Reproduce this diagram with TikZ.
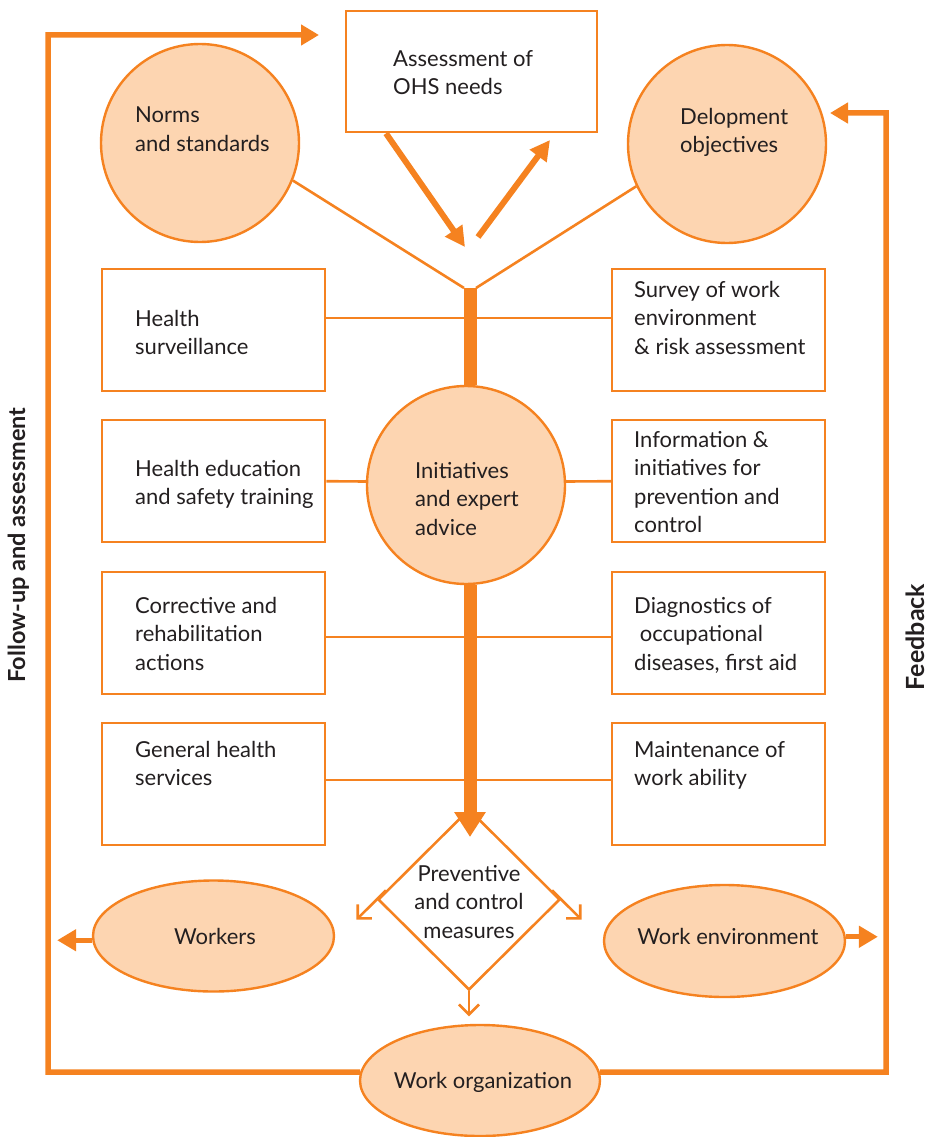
\documentclass[tikz,border=0pt]{standalone}
\usepackage{fontspec}
\setmainfont{Lato}
\usetikzlibrary{shapes.geometric,arrows.meta,calc}
\definecolor{org}{HTML}{F58220}
\definecolor{peach}{HTML}{FDD5B1}
\definecolor{ink}{HTML}{231F20}
\newcommand\lfs{\fontsize{22pt}{28.5pt}\selectfont}
\begin{document}
\begin{tikzpicture}[x=1pt,y=-1pt,
  box/.style={draw=org,line width=2.4pt,inner sep=0,anchor=north west},
  lbox/.style={box,minimum width=223pt,minimum height=122pt},
  rbox/.style={box,minimum width=213pt,minimum height=122pt},
  circ/.style={circle,draw=org,fill=peach,line width=2.4pt,inner sep=0,minimum size=198pt},
  oval/.style={ellipse,draw=org,fill=peach,line width=2.4pt,inner sep=0,minimum width=240pt,minimum height=111pt},
  lbl/.style={anchor=north west,align=left,inner sep=0,font=\lfs,text=ink,yshift=-5pt,execute at begin node={\rule{0pt}{15pt}}},
  txt/.style={inner sep=0,font=\lfs,text=ink},
  conn/.style={draw=org,line width=2.6pt},
  loopline/.style={draw=org,line width=5.5pt},
  bigtip/.style={-{Triangle[length=19pt,width=21pt]}},
  barb/.style={-{Straight Barb[length=10pt,width=20pt]}},
  side/.style={rotate=90,anchor=base,inner sep=0,text=ink,font=\bfseries\fontsize{23.5pt}{26pt}\selectfont}
]
\useasboundingbox (0,0) rectangle (931,1137);

% top box and circles
\node[box,minimum width=251pt,minimum height=121pt] (aoh) at (345,10) {};
\node[lbl] (aohT) at (393,45) {Assessment of\\OHS needs};
\node[circ] (norms) at (200,143) {};
\node[lbl] (normsT) at (135,102) {Norms\\and standards};
\node[circ] (dev) at (727,144) {};
\node[lbl] (devT) at (680,103) {Delopment\\objectives};

% left boxes
\node[lbox] (hs) at (101,268) {};
\node[lbl] (hsT) at (135,305) {Health\\surveillance};
\node[lbox] (he) at (101,419) {};
\node[lbl] (heT) at (135,455) {Health education\\and safety training};
\node[lbox] (cr) at (101,571) {};
\node[lbl] (crT) at (135,592) {Corrective and\\rehabilitation\\actions};
\node[lbox] (gh) at (101,722) {};
\node[lbl] (ghT) at (135,736) {General health\\services};

% right boxes
\node[rbox] (sw) at (611,268) {};
\node[lbl] (swT) at (634,276) {Survey of work\\environment\\\& risk assessment};
\node[rbox] (info) at (611,419) {};
\node[lbl] (infoT) at (634,426) {Information \&\\initiatives for\\prevention and\\control};
\node[rbox] (dg) at (611,571) {};
\node[lbl] (dgT) at (634,592) {Diagnostics of\\\ occupational\\diseases, first aid};
\node[rbox] (mw) at (611,722) {};
\node[lbl] (mwT) at (634,736) {Maintenance of\\work ability};

% horizontal connectors
\draw[conn] ($(hs.north east)+(0,50)$) -- ($(sw.north west)+(0,50)$);
\draw[conn] ($(cr.north east)+(0,66)$) -- ($(dg.north west)+(0,66)$);
\draw[conn] ($(gh.north east)+(0,58)$) -- ($(mw.north west)+(0,58)$);

% central circle
\node[circ] (init) at (466,485) {};
\node[lbl] (initT) at (415,457) {Initiatives\\and expert\\advice};
\draw[conn] (he.east) -- (init.178);
\draw[conn] (init.2) -- (info.west);

% top arrows and diagonals
\coordinate (vtop) at (470,288);
\coordinate (a1tip) at (465,247);
\coordinate (a2start) at (478,237);
\coordinate (a2tip) at (550,140);
\draw[org,line width=6pt,-{Triangle[length=20pt,width=20pt]}] ($(aoh.south west)+(41,0)$) -- (a1tip);
\draw[org,line width=6pt,-{Triangle[length=20pt,width=20pt]}] (a2start) -- (a2tip);
\draw[conn] (norms.-22) -- ($(vtop)+(-6,0)$);
\draw[conn] (dev.-155) -- ($(vtop)+(6,0)$);

% diamond
\node[diamond,draw=org,line width=2.6pt,minimum width=182pt,minimum height=181pt,inner sep=0] (pm) at (469,899.5) {};
\node[txt,align=center] (pmT) at (469,902) {Preventive\\ and control\\ measures};
\draw[conn,barb] ($(pm.north)!0.9!(pm.west)$) -- ($(pm.north)!1.22!(pm.west)$);
\draw[conn,barb] ($(pm.north)!0.9!(pm.east)$) -- ($(pm.north)!1.22!(pm.east)$);
\draw[conn,barb] (pm.south) -- ++(0,25);

% thick bar
\coordinate (bartip) at (470,837);
\draw[org,line width=13pt] (vtop) -- (vtop |- init.north);
\draw[org,line width=13pt,-{Triangle[length=25pt,width=30pt]}] (vtop |- init.south) -- (bartip);

% ellipses
\node[oval,minimum width=241pt] (wk) at (213.5,936) {};
\node[txt,anchor=base] (wkT) at (215,944) {Workers};
\node[oval,minimum width=241pt,minimum height=112pt] (we) at (724.5,941) {};
\node[txt,anchor=base] (weT) at (728,944) {Work environment};
\node[oval] (wo) at (480,1080.5) {};
\node[txt,anchor=base] (woT) at (483,1088) {Work organization};
\draw[org,line width=5pt,bigtip] (wk.182) -- ++(-35,0);
\draw[org,line width=5pt,bigtip] (we.2) -- ++(32,0);

% outer loop
\coordinate (c1) at (48,1072);
\coordinate (c2) at (48,35);
\coordinate (toptip) at (319,35);
\coordinate (c3) at (886,1072);
\coordinate (c4) at (886,113);
\coordinate (devtip) at (830,113);
\draw[loopline,-{Triangle[length=18pt,width=20pt]}] (wo.176) -- (c1) -- (c2) -- (toptip);
\draw[loopline,-{Triangle[length=18pt,width=20pt]}] (wo.4) -- (c3) -- (c4) -- (devtip);

% side labels
\node[side] (fu) at (25,545) {Follow-up and assessment};
\node[side,font=\bfseries\fontsize{25pt}{28pt}\selectfont] (fb) at (924,637) {Feedback};
\end{tikzpicture}
\end{document}
